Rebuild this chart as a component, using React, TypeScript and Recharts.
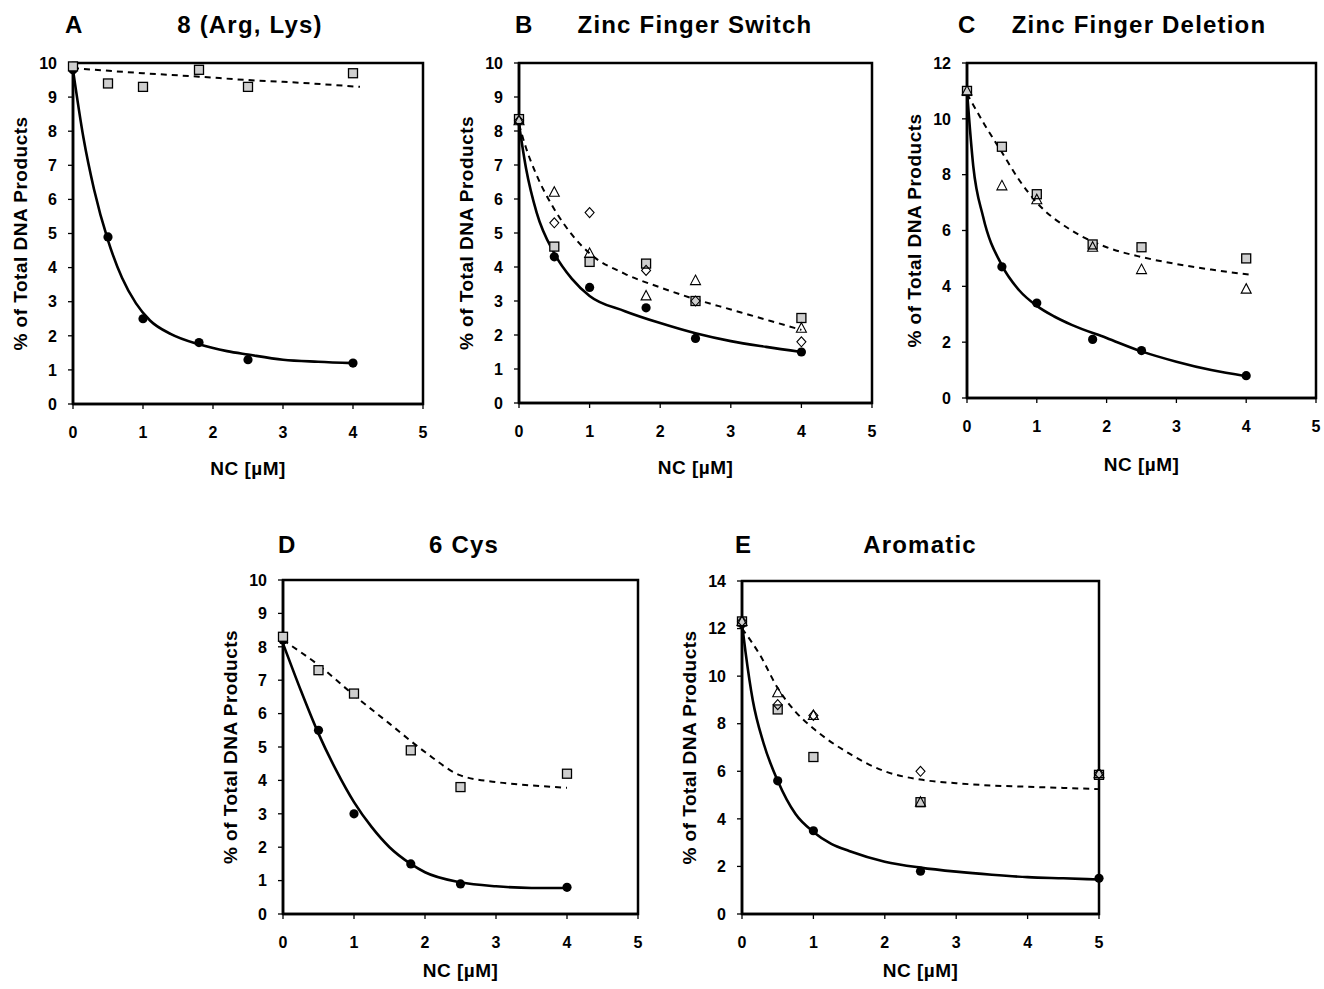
import React from 'react';
import { ComposedChart, Line, Scatter, XAxis, YAxis, ReferenceArea } from 'recharts';

// ---------- data ----------
const xTicks5 = [0, 1, 2, 3, 4, 5];

// Panel A: 8 (Arg, Lys)
const xA = [0, 0.5, 1, 1.8, 2.5, 4];
const aCircles = [9.8, 4.9, 2.5, 1.8, 1.3, 1.2];
const aSquares = [9.9, 9.4, 9.3, 9.8, 9.3, 9.7];
const aSolidX = [0, 0.15, 0.3, 0.5, 0.7, 0.9, 1.1, 1.4, 1.8, 2.2, 2.5, 3, 3.5, 4];
const aSolidY = [9.8, 7.8, 6.3, 4.8, 3.7, 2.95, 2.45, 2.05, 1.75, 1.55, 1.45, 1.3, 1.24, 1.2];
const aDashX = [0, 1, 1.8, 2.5, 3, 4.1];
const aDashY = [9.85, 9.7, 9.6, 9.5, 9.45, 9.3];

// Panel B: Zinc Finger Switch
const xB = [0, 0.5, 1, 1.8, 2.5, 4];
const bCircles = [8.3, 4.3, 3.4, 2.8, 1.9, 1.5];
const bSquares = [8.35, 4.6, 4.15, 4.1, 3.0, 2.5];
const bTriangles = [8.3, 6.2, 4.4, 3.15, 3.6, 2.2];
const bDiamonds = [8.3, 5.3, 5.6, 3.9, 3.0, 1.8];
const bSolidX = [0, 0.1, 0.25, 0.5, 0.75, 1, 1.5, 2, 2.5, 3, 3.5, 4];
const bSolidY = [8.2, 6.9, 5.6, 4.4, 3.65, 3.15, 2.7, 2.35, 2.05, 1.82, 1.65, 1.5];
const bDashX = [0, 0.1, 0.25, 0.5, 0.75, 1, 1.5, 2, 2.5, 3, 3.5, 4];
const bDashY = [8.2, 7.5, 6.7, 5.7, 4.95, 4.4, 3.8, 3.4, 3.05, 2.75, 2.45, 2.15];

// Panel C: Zinc Finger Deletion
const xC = [0, 0.5, 1, 1.8, 2.5, 4];
const cCircles = [11, 4.7, 3.4, 2.1, 1.7, 0.8];
const cSquares = [11, 9.0, 7.3, 5.5, 5.4, 5.0];
const cTriangles = [11, 7.6, 7.1, 5.4, 4.6, 3.9];
const cSolidX = [0, 0.09, 0.23, 0.5, 0.75, 1, 1.25, 1.5, 2, 2.5, 3, 3.5, 4];
const cSolidY = [11, 8.3, 6.5, 4.75, 3.85, 3.3, 2.92, 2.62, 2.15, 1.67, 1.3, 1.0, 0.78];
const cDashX = [0, 0.25, 0.5, 0.75, 1, 1.5, 2, 2.5, 3, 3.5, 4.1];
const cDashY = [10.9, 9.8, 8.8, 7.8, 7.0, 6.0, 5.4, 5.05, 4.8, 4.6, 4.4];

// Panel D: 6 Cys
const xD = [0, 0.5, 1, 1.8, 2.5, 4];
const dCircles = [8.2, 5.5, 3.0, 1.5, 0.9, 0.8];
const dSquares = [8.3, 7.3, 6.6, 4.9, 3.8, 4.2];
const dSolidX = [0, 0.25, 0.5, 0.75, 1, 1.25, 1.5, 1.8, 2, 2.5, 3, 3.5, 4];
const dSolidY = [8.1, 6.7, 5.4, 4.3, 3.35, 2.6, 2.0, 1.5, 1.25, 0.95, 0.83, 0.78, 0.78];
const dDashX = [0, 0.5, 1, 1.5, 2, 2.5, 3, 3.5, 4];
const dDashY = [8.2, 7.45, 6.55, 5.7, 4.85, 4.15, 3.95, 3.85, 3.78];

// Panel E: Aromatic
const xE = [0, 0.5, 1, 2.5, 5];
const eCircles = [12.2, 5.6, 3.5, 1.8, 1.5];
const eSquares = [12.3, 8.6, 6.6, 4.7, 5.85];
const eTriangles = [12.3, 9.3, 8.35, 4.7, 5.9];
const eDiamonds = [12.3, 8.8, 8.35, 6.0, 5.9];
const eSolidX = [0, 0.05, 0.15, 0.3, 0.5, 0.75, 1, 1.25, 1.5, 2, 2.5, 3, 3.5, 4, 4.5, 5];
const eSolidY = [12.2, 11, 9.0, 7.2, 5.6, 4.2, 3.45, 2.95, 2.65, 2.2, 1.95, 1.78, 1.65, 1.55, 1.5, 1.45];
const eDashX = [0, 0.25, 0.5, 0.75, 1, 1.5, 2, 2.5, 3, 3.5, 4, 4.5, 5];
const eDashY = [12.0, 10.9, 9.5, 8.5, 7.8, 6.75, 6.0, 5.65, 5.5, 5.4, 5.35, 5.3, 5.25];

// ---------- helpers ----------
type Pt = { x: number; y: number };
const pts = (xs: number[], ys: number[]): Pt[] => xs.map((x, i) => ({ x, y: ys[i] }));

const FONT = '"Liberation Sans", Arial, Helvetica, sans-serif';

const circleShape = (p: any) => <circle cx={p.cx} cy={p.cy} r={4.6} fill="#000" />;
const squareShape = (p: any) => (
  <rect x={p.cx - 4.5} y={p.cy - 4.5} width={9} height={9} fill="#cfcfcf" stroke="#000" strokeWidth={1.3} />
);
const triangleShape = (p: any) => (
  <polygon
    points={`${p.cx},${p.cy - 5.5} ${p.cx + 5},${p.cy + 4} ${p.cx - 5},${p.cy + 4}`}
    fill="none"
    stroke="#000"
    strokeWidth={1.1}
  />
);
const diamondShape = (p: any) => (
  <polygon
    points={`${p.cx},${p.cy - 5} ${p.cx + 4.5},${p.cy} ${p.cx},${p.cy + 5} ${p.cx - 4.5},${p.cy}`}
    fill="none"
    stroke="#000"
    strokeWidth={1.1}
  />
);

const XTick = (p: any) => (
  <text
    x={p.x}
    y={p.y}
    dy="0.75em"
    textAnchor="middle"
    fontSize={16}
    fontWeight={700}
    fontFamily={FONT}
    fill="#000"
  >
    {p.payload.value}
  </text>
);
const YTick = (p: any) => (
  <text
    x={p.x}
    y={p.y}
    dy="0.36em"
    textAnchor="end"
    fontSize={16}
    fontWeight={700}
    fontFamily={FONT}
    fill="#000"
  >
    {p.payload.value}
  </text>
);

type Series = { data: Pt[]; shape: (p: any) => React.ReactElement };

type PanelProps = {
  left: number;
  top: number;
  w: number;
  h: number;
  yMax: number;
  yTicks: number[];
  solid: Pt[];
  dashed: Pt[];
  series: Series[];
  xLabelDy: number;
};

const Y_AXIS_W = 72;
const TOP_M = 10;
const RIGHT_M = 6;
const X_AXIS_H = 88;

function Panel({ left, top, w, h, yMax, yTicks, solid, dashed, series, xLabelDy }: PanelProps) {
  const width = Y_AXIS_W + w + RIGHT_M;
  const height = TOP_M + h + X_AXIS_H;
  return (
    <div style={{ position: 'absolute', left: left - Y_AXIS_W, top: top - TOP_M, width, height }}>
      <ComposedChart width={width} height={height} margin={{ top: TOP_M, right: RIGHT_M, bottom: 0, left: 0 }}>
        <XAxis
          type="number"
          dataKey="x"
          domain={[0, 5]}
          ticks={xTicks5}
          interval={0}
          height={X_AXIS_H}
          tickSize={5}
          tickMargin={17}
          tick={<XTick />}
          axisLine={{ stroke: '#000', strokeWidth: 2.5 }}
          tickLine={{ stroke: '#000', strokeWidth: 1.3 }}
          label={{
            content: (p: any) => {
              const vb = p.viewBox || {};
              return (
                <text
                  x={vb.x + vb.width / 2}
                  y={vb.y + xLabelDy}
                  textAnchor="middle"
                  fontSize={19}
                  fontWeight={700}
                  letterSpacing={0.5}
                  fontFamily={FONT}
                  fill="#000"
                >
                  NC [µM]
                </text>
              );
            },
          }}
        />
        <YAxis
          type="number"
          dataKey="y"
          domain={[0, yMax]}
          ticks={yTicks}
          interval={0}
          width={Y_AXIS_W}
          tickSize={5}
          tickMargin={11}
          tick={<YTick />}
          axisLine={{ stroke: '#000', strokeWidth: 2.5 }}
          tickLine={{ stroke: '#000', strokeWidth: 1.3 }}
          label={{
            content: (p: any) => {
              const vb = p.viewBox || {};
              const cx = vb.x + vb.width - 53;
              const cy = vb.y + vb.height / 2;
              return (
                <text
                  x={cx}
                  y={cy}
                  transform={`rotate(-90 ${cx} ${cy})`}
                  textAnchor="middle"
                  dominantBaseline="central"
                  fontSize={19}
                  fontWeight={700}
                  letterSpacing={0.5}
                  fontFamily={FONT}
                  fill="#000"
                >
                  % of Total DNA Products
                </text>
              );
            },
          }}
        />
        <ReferenceArea x1={0} x2={5} y1={0} y2={yMax} fill="none" fillOpacity={0} stroke="#000" strokeWidth={2.5} />
        <Line
          data={dashed}
          dataKey="y"
          type="monotone"
          stroke="#000"
          strokeWidth={2}
          strokeDasharray="6 5"
          dot={false}
          activeDot={false}
          isAnimationActive={false}
        />
        <Line
          data={solid}
          dataKey="y"
          type="monotone"
          stroke="#000"
          strokeWidth={2.6}
          dot={false}
          activeDot={false}
          isAnimationActive={false}
        />
        {series.map((s, i) => (
          <Scatter key={i} data={s.data} dataKey="y" shape={s.shape} isAnimationActive={false} />
        ))}
      </ComposedChart>
    </div>
  );
}

const titleStyle = { fontSize: 24, fontWeight: 700, fontFamily: FONT, fill: '#000', letterSpacing: 1.2 } as const;

export default function App() {
  return (
    <div style={{ position: 'absolute', left: 0, top: 0, width: 1324, height: 989, background: '#fff', overflow: 'hidden' }}>
      <svg width={1324} height={989} style={{ position: 'absolute', left: 0, top: 0 }}>
        <text x={65} y={33} {...titleStyle}>A</text>
        <text x={250} y={33} textAnchor="middle" {...titleStyle}>8 (Arg, Lys)</text>
        <text x={515} y={33} {...titleStyle}>B</text>
        <text x={695} y={33} textAnchor="middle" {...titleStyle}>Zinc Finger Switch</text>
        <text x={958} y={33} {...titleStyle}>C</text>
        <text x={1139} y={33} textAnchor="middle" {...titleStyle}>Zinc Finger Deletion</text>
        <text x={278} y={553} {...titleStyle}>D</text>
        <text x={464} y={553} textAnchor="middle" {...titleStyle}>6 Cys</text>
        <text x={735} y={553} {...titleStyle}>E</text>
        <text x={920} y={553} textAnchor="middle" {...titleStyle}>Aromatic</text>
      </svg>

      <Panel
        left={73}
        top={63}
        w={350}
        h={341}
        yMax={10}
        yTicks={[0, 1, 2, 3, 4, 5, 6, 7, 8, 9, 10]}
        solid={pts(aSolidX, aSolidY)}
        dashed={pts(aDashX, aDashY)}
        series={[
          { data: pts(xA, aCircles), shape: circleShape },
          { data: pts(xA, aSquares), shape: squareShape },
        ]}
        xLabelDy={71}
      />
      <Panel
        left={519}
        top={63}
        w={353}
        h={340}
        yMax={10}
        yTicks={[0, 1, 2, 3, 4, 5, 6, 7, 8, 9, 10]}
        solid={pts(bSolidX, bSolidY)}
        dashed={pts(bDashX, bDashY)}
        series={[
          { data: pts(xB, bCircles), shape: circleShape },
          { data: pts(xB, bSquares), shape: squareShape },
          { data: pts(xB, bTriangles), shape: triangleShape },
          { data: pts(xB, bDiamonds), shape: diamondShape },
        ]}
        xLabelDy={71}
      />
      <Panel
        left={967}
        top={63}
        w={349}
        h={335}
        yMax={12}
        yTicks={[0, 2, 4, 6, 8, 10, 12]}
        solid={pts(cSolidX, cSolidY)}
        dashed={pts(cDashX, cDashY)}
        series={[
          { data: pts(xC, cCircles), shape: circleShape },
          { data: pts(xC, cSquares), shape: squareShape },
          { data: pts(xC, cTriangles), shape: triangleShape },
        ]}
        xLabelDy={73}
      />
      <Panel
        left={283}
        top={580}
        w={355}
        h={334}
        yMax={10}
        yTicks={[0, 1, 2, 3, 4, 5, 6, 7, 8, 9, 10]}
        solid={pts(dSolidX, dSolidY)}
        dashed={pts(dDashX, dDashY)}
        series={[
          { data: pts(xD, dCircles), shape: circleShape },
          { data: pts(xD, dSquares), shape: squareShape },
        ]}
        xLabelDy={63}
      />
      <Panel
        left={742}
        top={581}
        w={357}
        h={333}
        yMax={14}
        yTicks={[0, 2, 4, 6, 8, 10, 12, 14]}
        solid={pts(eSolidX, eSolidY)}
        dashed={pts(eDashX, eDashY)}
        series={[
          { data: pts(xE, eCircles), shape: circleShape },
          { data: pts(xE, eSquares), shape: squareShape },
          { data: pts(xE, eTriangles), shape: triangleShape },
          { data: pts(xE, eDiamonds), shape: diamondShape },
        ]}
        xLabelDy={63}
      />
    </div>
  );
}
